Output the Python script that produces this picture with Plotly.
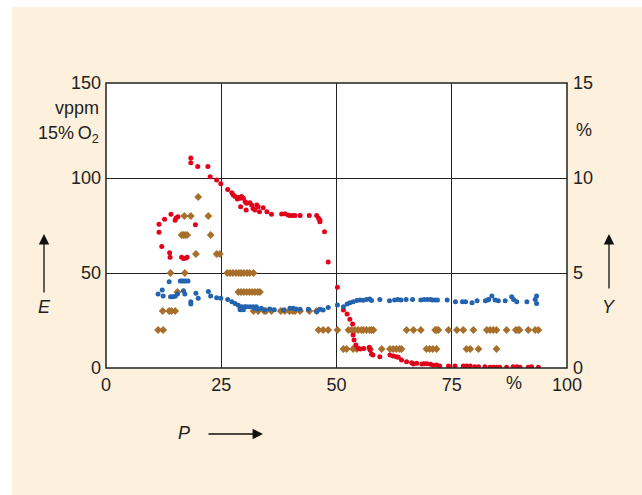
import plotly.graph_objects as go

# ---- data ----
red_x = [11.5,11.5,12.1,12.7,13.8,13.9,14.1,15.0,15.2,15.6,16.4,16.8,17.2,17.6,18.4,18.4,19.4,19.9,22.1,22.6,
         24.0,24.9,26.4,27.3,27.6,28.0,28.5,28.7,29.1,29.2,29.4,29.8,30.2,30.4,30.5,31.2,31.6,31.9,32.3,32.7,
         33.0,33.3,34.1,34.9,35.9,38.1,38.8,39.5,39.9,40.5,41.0,42.1,44.1,45.7,46.1,46.4,46.4,47.4,48.2,50.2,
         51.5,52.3,52.9,53.5,53.6,53.8,54.2,54.7,55.2,55.9,57.1,57.3,57.6,57.9,59.4,61.6,62.3,63.0,63.4,64.1,
         65.2,66.3,66.7,67.4,68.5,69.0,69.6,70.4,71.0,71.7,72.4,74.3,75.7,77.5,78.2,79.0,80.0,80.8,82.2,83.3,
         84.0,84.7,85.4,86.9,88.3,89.1,89.8,91.6,92.3,93.8]
red_e = [75.6,71.4,64.0,78.3,60.7,58.3,80.9,77.7,79.0,79.6,58.3,57.6,57.8,58.3,110.5,108.0,75.4,106.0,106.0,100.7,
         99.0,97.0,94.0,92.3,91.0,90.2,89.0,89.8,89.3,84.9,90.2,89.3,87.5,83.2,86.7,87.0,85.8,84.0,83.2,85.8,
         84.9,82.3,84.4,82.3,80.9,81.0,81.2,80.5,80.2,80.2,80.2,80.2,80.2,80.2,78.8,77.9,77.0,71.7,55.8,42.5,
         30.5,28.4,25.6,23.2,17.4,14.7,12.1,10.4,10.0,10.2,10.9,9.5,7.4,6.8,5.9,6.8,6.3,5.9,5.6,4.2,
         3.3,2.8,2.1,2.5,2.1,2.3,2.3,2.0,1.5,1.6,1.1,1.1,1.1,1.1,1.1,1.0,0.7,0.7,0.7,0.4,
         0.4,0.4,0.4,0.4,0.6,0.6,0.4,0.4,0.6,0.4]

brown_x = [20.0,
           17.0,18.4,22.2,
           16.4,16.8,17.2,17.6,22.7,
           19.5,24.0,24.7,
           14.0,17.1,26.3,26.9,27.5,28.2,28.8,29.3,29.9,30.6,31.2,32.0,
           15.5,28.7,29.3,29.9,30.5,31.1,31.7,32.3,32.9,33.4,
           12.3,13.7,14.2,15.0,32.0,33.0,34.3,34.7,35.9,37.9,38.8,39.8,40.5,41.0,42.1,44.1,45.7,
           11.3,12.4,46.1,47.1,48.2,50.2,52.6,53.3,54.0,54.7,55.4,55.8,56.5,57.2,57.6,58.0,65.2,66.7,68.3,
           71.4,71.7,72.1,74.3,76.1,77.5,79.7,82.6,83.3,84.0,84.7,86.9,88.9,89.4,89.7,91.6,93.1,93.8,
           51.5,52.2,53.6,54.4,57.3,59.8,61.6,62.3,63.0,63.7,64.1,69.5,70.2,70.9,71.7,78.2,79.0,80.8,84.7]
brown_e = [90,
           80,80,80,
           70,70,70,70,70,
           60,60,60,
           50,50,50,50,50,50,50,50,50,50,50,50,
           40,40,40,40,40,40,40,40,40,40,
           30,30,30,30,30,30,30,30,30,30,30,30,30,30,30,30,30,
           20,20,20,20,20,20,20,20,20,20,20,20,20,20,20,20,20,20,20,
           20,20,20,20,20,20,20,20,20,20,20,20,20,20,20,20,20,20,
           10,10,10,10,10,10,10,10,10,10,10,10,10,10,10,10,10,10,10]

blue_x = [11.3,12.2,12.4,13.7,14.0,14.5,15.0,15.5,16.1,16.5,16.9,17.3,17.8,16.8,17.1,18.4,18.4,19.5,20.0,22.2,
          22.7,24.0,24.9,26.4,27.3,28.0,28.7,29.1,29.1,29.4,29.8,30.1,30.5,31.2,31.9,32.2,32.6,33.0,33.7,34.4,
          35.5,36.5,38.5,39.9,40.6,41.2,42.1,43.9,45.7,46.4,47.1,48.2,50.2,51.5,52.3,52.9,53.6,54.4,55.1,55.8,
          56.5,57.2,57.6,59.4,61.5,62.6,63.3,64.0,65.1,66.5,68.3,69.0,69.7,70.4,70.8,71.4,71.9,74.0,75.8,77.3,
          78.0,79.4,80.5,82.3,82.8,83.0,83.7,84.4,85.1,86.6,88.0,88.4,89.1,91.3,93.1,93.4,93.4]
blue_y = [3.89,4.10,3.79,4.54,3.75,3.75,3.78,3.90,4.58,4.58,4.58,4.58,4.58,4.07,3.90,3.49,3.37,3.93,3.67,4.02,
          3.79,3.70,3.67,3.61,3.49,3.40,3.30,3.14,3.07,3.23,3.07,3.23,3.23,3.23,3.23,3.14,3.23,3.10,3.14,3.05,
          3.10,3.07,3.05,3.14,3.14,3.10,3.09,3.09,2.96,3.09,3.05,3.19,3.32,3.23,3.37,3.44,3.49,3.55,3.58,3.56,
          3.60,3.63,3.55,3.61,3.54,3.58,3.61,3.58,3.61,3.61,3.58,3.61,3.61,3.61,3.58,3.58,3.58,3.58,3.49,3.49,
          3.49,3.44,3.54,3.54,3.58,3.61,3.79,3.58,3.54,3.54,3.75,3.61,3.49,3.49,3.61,3.79,3.40]

x_ticks = [0, 25, 50, 75, 100]
e_ticks = [0, 50, 100, 150]
y_ticks = [0, 5, 10, 15]

FONT = "Liberation Sans, Arial, sans-serif"
TXT = "#222222"
RED = "#e2001a"
BLUE = "#2463ae"
BROWN = "#a86f2c"
BEIGE = "#fdf0dc"

fig = go.Figure()
fig.add_trace(go.Scatter(x=brown_x, y=brown_e, mode="markers",
                         marker=dict(symbol="diamond", size=6, color=BROWN, line=dict(width=0)),
                         showlegend=False))
fig.add_trace(go.Scatter(x=blue_x, y=blue_y, mode="markers", yaxis="y2",
                         marker=dict(size=5, color=BLUE, line=dict(width=0)),
                         showlegend=False))
fig.add_trace(go.Scatter(x=red_x, y=red_e, mode="markers",
                         marker=dict(size=5, color=RED, line=dict(width=0)),
                         showlegend=False))

L, R, T, B = 106, 75, 83, 127
W, H = 642, 495
pw, ph = W - L - R, H - T - B


def px(x):
    return (x - L) / pw


def py(y):
    return (H - B - y) / ph


shapes = [
    dict(type="rect", xref="paper", yref="paper", x0=px(12), x1=px(642), y0=py(495), y1=py(7),
         fillcolor=BEIGE, line=dict(width=0), layer="below"),
    dict(type="rect", xref="paper", yref="paper", x0=0, x1=1, y0=0, y1=1,
         fillcolor="white", line=dict(width=0), layer="below"),
    dict(type="rect", xref="paper", yref="paper", x0=0, x1=1, y0=0, y1=1,
         fillcolor="rgba(0,0,0,0)", line=dict(width=1.5, color="#222"), layer="above"),
]

ann = []
fs = 18
ann.append(dict(xref="paper", yref="paper", x=px(101), y=py(108), text="vppm", showarrow=False,
                xanchor="right", yanchor="middle", font=dict(size=fs, color=TXT, family=FONT)))
ann.append(dict(xref="paper", yref="paper", x=px(101), y=py(134), text="15%\u2009O<sub>2</sub>", showarrow=False,
                xanchor="right", yanchor="middle", font=dict(size=fs, color=TXT, family=FONT)))
ann.append(dict(xref="paper", yref="paper", x=px(574), y=py(130), text="%", showarrow=False,
                xanchor="left", yanchor="middle", font=dict(size=fs, color=TXT, family=FONT)))
ann.append(dict(xref="paper", yref="paper", x=px(514), y=py(383), text="%", showarrow=False,
                xanchor="center", yanchor="middle", font=dict(size=fs, color=TXT, family=FONT)))
# axis names
ann.append(dict(xref="paper", yref="paper", x=px(44), y=py(307), text="<i>E</i>", showarrow=False,
                xanchor="center", yanchor="middle", font=dict(size=fs, color=TXT, family=FONT)))
ann.append(dict(xref="paper", yref="paper", x=px(609), y=py(307), text="<i>Y</i>", showarrow=False,
                xanchor="center", yanchor="middle", font=dict(size=fs, color=TXT, family=FONT)))
ann.append(dict(xref="paper", yref="paper", x=px(184), y=py(433), text="<i>P</i>", showarrow=False,
                xanchor="center", yanchor="middle", font=dict(size=fs, color=TXT, family=FONT)))
# arrows
for (hx, hy, ax, ay) in [(44, 234, 0, 60), (609, 234, 0, 56), (263, 434, -56, 0)]:
    ann.append(dict(xref="paper", yref="paper", x=px(hx), y=py(hy), ax=ax, ay=ay, text="",
                    showarrow=True, arrowhead=2, arrowsize=1.6, arrowwidth=1.3, arrowcolor="#111"))

axis_font = dict(size=fs, color=TXT, family=FONT)
fig.update_layout(
    width=W, height=H,
    margin=dict(l=L, r=R, t=T, b=B),
    paper_bgcolor="white",
    plot_bgcolor="rgba(0,0,0,0)",
    shapes=shapes,
    annotations=ann,
    xaxis=dict(range=[0, 100], tickvals=x_ticks, ticktext=[str(v) for v in x_ticks],
               showgrid=True, gridcolor="#222", gridwidth=1, zeroline=False, showline=False,
               ticks="", tickfont=axis_font, fixedrange=True, ticklabelstandoff=4),
    yaxis=dict(range=[0, 150], tickvals=e_ticks, ticktext=[str(v) for v in e_ticks],
               showgrid=True, gridcolor="#222", gridwidth=1, zeroline=False, showline=False,
               ticks="", tickfont=axis_font, fixedrange=True, ticklabelstandoff=4),
    yaxis2=dict(range=[0, 15], tickvals=y_ticks, ticktext=[str(v) for v in y_ticks],
                overlaying="y", side="right", showgrid=False, zeroline=False, showline=False,
                ticks="", tickfont=axis_font, fixedrange=True, ticklabelstandoff=5),
)

fig.write_html("out.html")
